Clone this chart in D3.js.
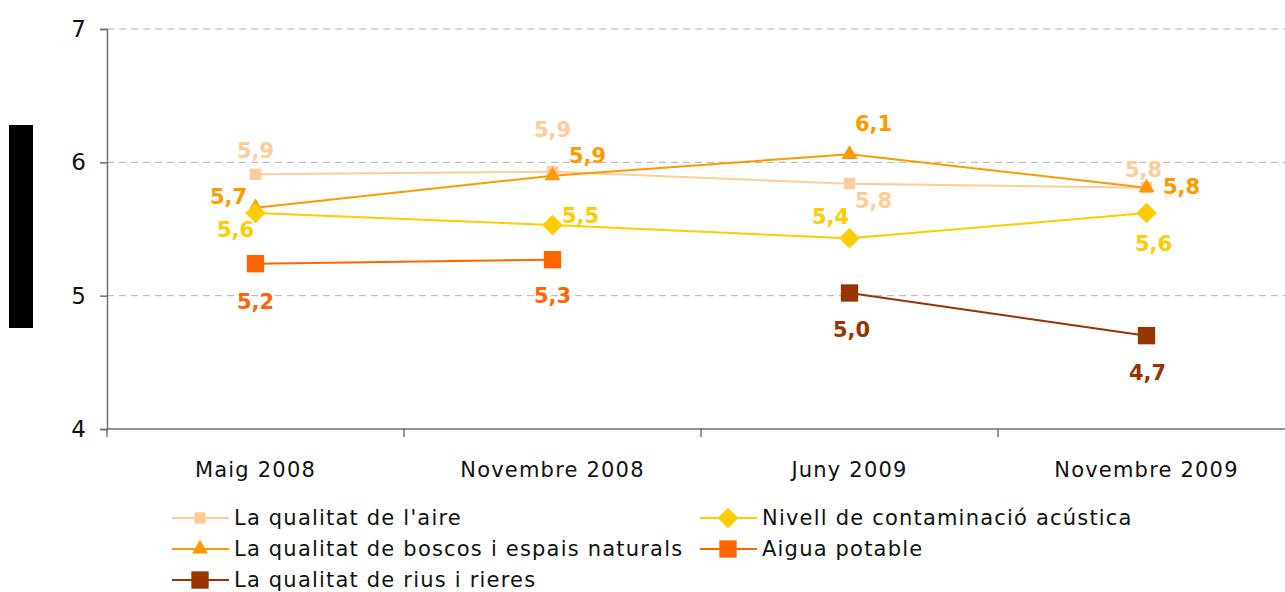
<!DOCTYPE html>
<html>
<head>
<meta charset="utf-8">
<script src="https://cdn.jsdelivr.net/npm/d3@7"></script>
<style>
  body { margin: 0; background: #fff; }
  svg { display: block; font-family: "DejaVu Sans", sans-serif; }
</style>
</head>
<body>
<svg id="chart" width="1285" height="592"></svg>
<script>
// Data
const periods = ["Maig 2008", "Novembre 2008", "Juny 2009", "Novembre 2009"];
const yTicks = [4, 5, 6, 7];

const aire = [5.91, 5.93, 5.84, 5.81];
const boscos = [5.66, 5.90, 6.06, 5.81];
const acustica = [5.62, 5.53, 5.43, 5.62];
const aigua = [5.24, 5.27, null, null];
const rius = [null, null, 5.02, 4.70];

const seriesNames = [
  "La qualitat de l'aire",
  "La qualitat de boscos i espais naturals",
  "La qualitat de rius i rieres",
  "Nivell de contaminació acústica",
  "Aigua potable"
];

// Colours and marker styles
const colors = {
  aire: "#FFCC99",
  boscos: "#FF9900",
  rius: "#993300",
  acustica: "#FFCC00",
  aigua: "#FF6600",
  grid: "#b0b0b0",
  axis: "#707070"
};

// label offsets (dx, dy) relative to each point
const labelOffsets = {
  aire: [[0, -23], [0, -42], [24, 17], [-3, -18]],
  boscos: [[-27, -11], [35, -20], [24, -30], [35, -1]],
  acustica: [[-20, 17], [28, -9], [-19, -21], [7, 31]],
  aigua: [[0, 38], [0, 36], null, null],
  rius: [null, null, [2, 37], [1, 37]]
};

// square diamond (rotated square) instead of d3's tall diamond
const symbolRhombus = {
  draw(context, size) {
    const r = Math.sqrt(size / 2);
    context.moveTo(0, -r);
    context.lineTo(r, 0);
    context.lineTo(0, r);
    context.lineTo(-r, 0);
    context.closePath();
  }
};

const series = [
  { key: "aire", name: seriesNames[0], values: aire, symbol: d3.symbolSquare, size: 130, color: colors.aire },
  { key: "boscos", name: seriesNames[1], values: boscos, symbol: d3.symbolTriangle, size: 110, color: colors.boscos },
  { key: "acustica", name: seriesNames[3], values: acustica, symbol: symbolRhombus, size: 210, color: colors.acustica },
  { key: "aigua", name: seriesNames[4], values: aigua, symbol: d3.symbolSquare, size: 300, color: colors.aigua },
  { key: "rius", name: seriesNames[2], values: rius, symbol: d3.symbolSquare, size: 300, color: colors.rius }
];

const svg = d3.select("#chart");

const x = d3.scaleBand().domain(periods).range([107, 1295]);
const y = d3.scaleLinear().domain([4, 7]).range([429, 29]);

// black block on the left
svg.append("rect").attr("x", 9).attr("y", 125).attr("width", 24).attr("height", 203).attr("fill", "#000");

// gridlines
svg.append("g").selectAll("line")
  .data(yTicks.filter(d => d > 4))
  .enter().append("line")
  .attr("x1", 107).attr("x2", 1285)
  .attr("y1", d => y(d)).attr("y2", d => y(d))
  .attr("stroke", colors.grid)
  .attr("stroke-width", 1)
  .attr("stroke-dasharray", "7,5");

// y axis
const yAxis = svg.append("g")
  .attr("transform", "translate(107,0)")
  .call(d3.axisLeft(y).tickValues(yTicks).tickSize(7).tickPadding(14).tickFormat(d3.format("d")));
yAxis.select(".domain").attr("stroke", colors.axis).attr("stroke-width", 1.5);
yAxis.selectAll(".tick line").attr("stroke", colors.axis).attr("stroke-width", 1.5);
yAxis.selectAll(".tick text").attr("font-size", 23).attr("fill", "#111")
  .style("font-family", "'DejaVu Sans', sans-serif");

// x axis
const xAxis = svg.append("g").attr("transform", "translate(0,429)");
xAxis.append("line").attr("x1", 107).attr("x2", 1285).attr("y1", 0).attr("y2", 0)
  .attr("stroke", colors.axis).attr("stroke-width", 1.5);
xAxis.selectAll(".xtick")
  .data(periods)
  .enter().append("line")
  .attr("x1", d => x(d)).attr("x2", d => x(d))
  .attr("y1", 0).attr("y2", 8)
  .attr("stroke", "#333").attr("stroke-width", 1);
xAxis.selectAll(".xlabel")
  .data(periods)
  .enter().append("text")
  .attr("x", d => x(d) + x.bandwidth() / 2)
  .attr("y", 41)
  .attr("text-anchor", "middle")
  .attr("dominant-baseline", "central")
  .attr("font-size", 21)
  .attr("letter-spacing", 1.2)
  .attr("fill", "#111")
  .text(d => d);

// lines
const line = d3.line()
  .defined(d => d != null)
  .x((d, i) => x(periods[i]) + x.bandwidth() / 2)
  .y(d => y(d));

series.forEach(s => {
  svg.append("path")
    .datum(s.values)
    .attr("fill", "none")
    .attr("stroke", s.color)
    .attr("stroke-width", 2)
    .attr("d", line);
});

// markers
series.forEach(s => {
  svg.append("g").selectAll("path")
    .data(s.values.map((v, i) => ({ v, i })).filter(d => d.v != null))
    .enter().append("path")
    .attr("d", d3.symbol().type(s.symbol).size(s.size))
    .attr("transform", d => `translate(${x(periods[d.i]) + x.bandwidth() / 2},${y(d.v)})`)
    .attr("fill", s.color);
});

// value labels
const fmt = v => d3.format(".1f")(v).replace(".", ",");
series.forEach(s => {
  svg.append("g").selectAll("text")
    .data(s.values.map((v, i) => ({ v, i })).filter(d => d.v != null))
    .enter().append("text")
    .attr("x", d => x(periods[d.i]) + x.bandwidth() / 2 + labelOffsets[s.key][d.i][0])
    .attr("y", d => y(d.v) + labelOffsets[s.key][d.i][1])
    .attr("text-anchor", "middle")
    .attr("dominant-baseline", "central")
    .attr("font-size", 21)
    .attr("font-weight", "bold")
    .attr("fill", s.color)
    .text(d => fmt(d.v));
});

// legend
const legendItems = [
  { s: series[0], x: 172, y: 518 },
  { s: series[1], x: 172, y: 549 },
  { s: series[4], x: 172, y: 580 },
  { s: series[2], x: 700, y: 518 },
  { s: series[3], x: 700, y: 549 }
];
const legend = svg.append("g");
legendItems.forEach(item => {
  const g = legend.append("g").attr("transform", `translate(${item.x},${item.y})`);
  g.append("line").attr("x1", 0).attr("x2", 57).attr("y1", 0).attr("y2", 0)
    .attr("stroke", item.s.color).attr("stroke-width", 2);
  g.append("path")
    .attr("d", d3.symbol().type(item.s.symbol).size(item.s.size))
    .attr("transform", "translate(28,0)")
    .attr("fill", item.s.color);
  g.append("text")
    .attr("x", 62).attr("y", 0)
    .attr("dominant-baseline", "central")
    .attr("font-size", 21)
    .attr("letter-spacing", 1.2)
    .attr("fill", "#111")
    .text(item.s.name);
});
</script>
</body>
</html>
